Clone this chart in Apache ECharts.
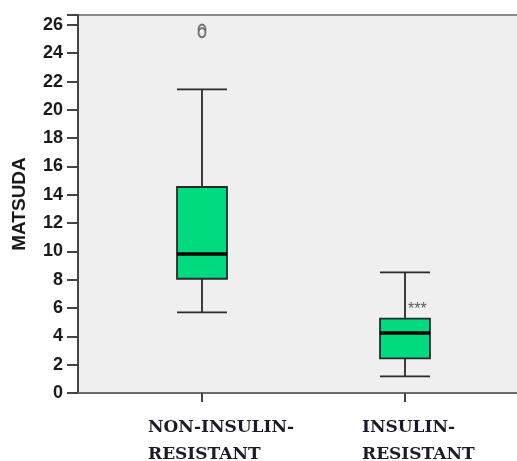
<!DOCTYPE html>
<html>
<head>
<meta charset="utf-8">
<script src="https://cdn.jsdelivr.net/npm/echarts@6/dist/echarts.min.js"></script>
<style>
  html, body { margin: 0; padding: 0; background: #fff; }
  #chart { width: 517px; height: 461px; }
</style>
</head>
<body>
<div id="chart"></div>
<script>
// Groups on the x axis
const categories = ['NON-INSULIN-\nRESISTANT', 'INSULIN-\nRESISTANT'];
// Box statistics per group: [lower whisker, Q1, median, Q3, upper whisker]
const boxStats = [
  [5.70, 8.07, 9.81, 14.55, 21.45],
  [1.17, 2.44, 4.23, 5.25, 8.52]
];
// Outliers as [group index, value]
const outliers = [[0, 25.70], [0, 25.45]];
// Significance marker: [group index, value, text]
const significance = [[1, 5.9, '***']];
// Y axis range and step
const yMin = 0, yMax = 26.7, yStep = 2;

// Rich-text styles keep both lines of a category label left-aligned
const labelRich = {
  a: { width: 145, align: 'left', padding: [0, 0, 0, 37] },
  b: { width: 116, align: 'left', padding: [0, 0, 0, 30] }
};
const labelFont = { fontFamily: 'DejaVu Serif', fontWeight: 'bold', fontSize: 17, lineHeight: 27, color: '#1a1a2a' };
Object.keys(labelRich).forEach(k => Object.assign(labelRich[k], labelFont));

const chart = echarts.init(document.getElementById('chart'), null, { renderer: 'canvas' });

const option = {
  animation: false,
  backgroundColor: '#ffffff',
  grid: [
    { left: 78, top: 15, right: -6, bottom: 68, show: true, outerBoundsMode: 'none',
      backgroundColor: '#efefef', borderColor: '#8a8a8a', borderWidth: 2 },
    { left: 100.5, top: 15, width: 406, bottom: 68, outerBoundsMode: 'none' }
  ],
  xAxis: [
    { gridIndex: 0, type: 'value', min: 0, max: 1,
      axisLine: { show: true, lineStyle: { color: '#6a6a6a', width: 2 } },
      axisTick: { show: false }, axisLabel: { show: false }, splitLine: { show: false } },
    { gridIndex: 1, type: 'category', data: categories, boundaryGap: true,
      axisLine: { show: false },
      axisTick: { show: true, alignWithLabel: true, length: 9, lineStyle: { color: '#444', width: 2 } },
      axisLabel: {
        interval: 0, align: 'center', margin: 21,
        formatter: (v, i) => {
          const key = i === 0 ? 'a' : 'b';
          return v.split('\n').map(line => '{' + key + '|' + line + '}').join('\n');
        },
        rich: labelRich
      },
      splitLine: { show: false } }
  ],
  yAxis: [
    { gridIndex: 0, type: 'value', min: yMin, max: yMax, interval: yStep,
      name: 'MATSUDA', nameLocation: 'middle', nameGap: 49, nameRotate: 90,
      nameTextStyle: { fontFamily: 'Liberation Sans', fontWeight: 'bold', fontSize: 19, color: '#1a1a1a' },
      axisLine: { show: true, lineStyle: { color: '#444', width: 2 } },
      axisTick: { show: true, length: 11, lineStyle: { color: '#444', width: 2 } },
      axisLabel: { margin: 15, fontFamily: 'Liberation Sans', fontWeight: 'bold', fontSize: 18, color: '#1a1a1a',
        formatter: v => (v % 2 === 0 ? String(v) : '') },
      splitLine: { show: false } },
    { gridIndex: 1, type: 'value', min: yMin, max: yMax, interval: yStep, show: false }
  ],
  series: [
    { type: 'boxplot', xAxisIndex: 1, yAxisIndex: 1,
      data: boxStats, boxWidth: [50, 50],
      itemStyle: { color: '#00db80', borderColor: '#2a2a2a', borderWidth: 1.8 },
      z: 3 },
    // median line drawn heavier on top of each box
    { type: 'custom', xAxisIndex: 1, yAxisIndex: 1, z: 4,
      data: boxStats.map((b, i) => [i, b[2]]),
      renderItem: (params, api) => {
        const p = api.coord([api.value(0), api.value(1)]);
        return { type: 'line',
          shape: { x1: p[0] - 25, y1: p[1], x2: p[0] + 25, y2: p[1] },
          style: { stroke: '#000', lineWidth: 3.5 } };
      } },
    { type: 'scatter', xAxisIndex: 1, yAxisIndex: 1, z: 5,
      data: outliers, symbol: 'emptyCircle', symbolSize: [7, 9],
      itemStyle: { color: '#555', borderWidth: 1.3 } },
    { type: 'scatter', xAxisIndex: 1, yAxisIndex: 1, z: 5,
      data: significance.map(s => [s[0], s[1], s[2]]), symbolSize: 0,
      label: { show: true, position: 'right', distance: 3, formatter: p => p.value[2],
        fontFamily: 'Liberation Sans', fontSize: 16, color: '#333' } }
  ]
};

chart.setOption(option);
</script>
</body>
</html>
